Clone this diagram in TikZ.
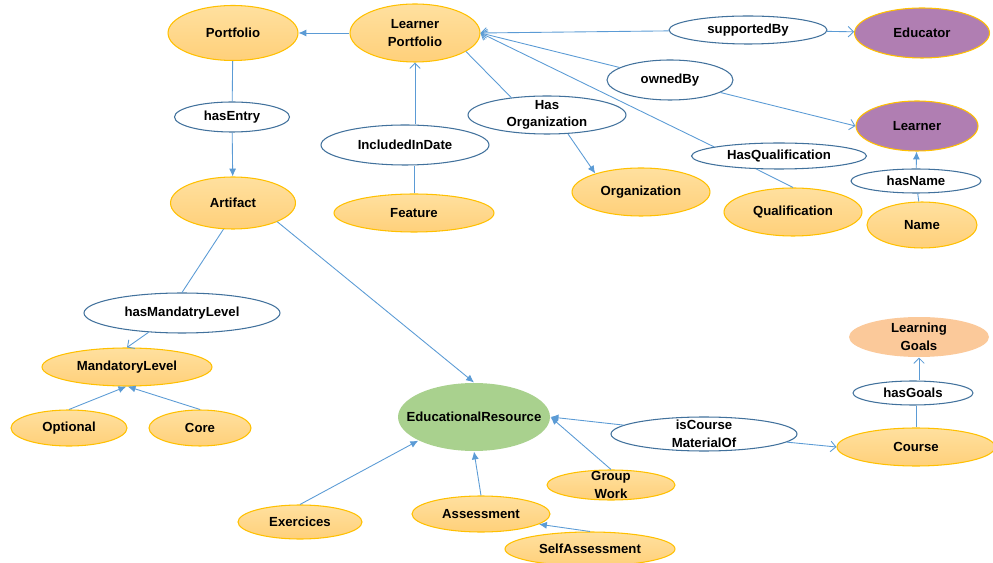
\documentclass[tikz,border=0pt]{standalone}
\usepackage{fontspec}
\setmainfont{Liberation Sans}
\usetikzlibrary{shapes.geometric,arrows.meta}
\definecolor{ornTop}{HTML}{FFE09F}
\definecolor{ornBot}{HTML}{FFD07A}
\definecolor{ornLine}{HTML}{FFC000}
\definecolor{purp}{HTML}{B07EB2}
\definecolor{grn}{HTML}{A9D18E}
\definecolor{salmon}{HTML}{FBC99A}
\definecolor{propLine}{HTML}{41719C}
\definecolor{lnk}{HTML}{5B9BD5}
\tikzset{
 e/.style
  = {ellipse, inner sep=0pt, align=center, line width=0.6pt,
     font=\bfseries\fontsize{7.5}{10}\selectfont},
 c/.style
  = {e, draw=ornLine, top color=ornTop, bottom color=ornBot},
 pu/.style
  = {e, draw=ornLine, fill=purp},
 g/.style
  = {e, fill=grn},
 s/.style
  = {e, fill=salmon},
 p/.style
  = {e, draw=propLine, fill=white},
 l/.style
  = {draw, lnk, line width=0.5pt},
 lf/.style
  = {l, -{Latex[length=4.5pt,width=4pt]}},
 lo/.style
  = {l, -{Straight Barb[length=3pt,width=6pt]}}
}
\begin{document}
\begin{tikzpicture}[x=0.02cm, y=-0.02cm]
    \useasboundingbox (0,0) rectangle (993,563);
    % top row
    \node [c, minimum width=2.6cm, minimum height=1.1cm] (portfolio) at (233,33) {Portfolio};
    \node [c, minimum width=2.6cm, minimum height=1.16cm] (lport) at (415,33) {Learner\\Portfolio};
    \node [p, minimum width=3.16cm, minimum height=0.56cm] (suppby) at (748,30) {supportedBy};
    \node [pu, minimum width=2.7cm, minimum height=1cm] (educator) at (922,33) {Educator};
    \node [p, minimum width=2.52cm, minimum height=0.8cm] (ownedby) at (670,80) {ownedBy};
    \node [p, minimum width=3.16cm, minimum height=0.76cm, inner ysep=-1pt] (hasorg) at (547,115) {Has\\Organization};
    \node [p, minimum width=2.3cm, minimum height=0.6cm] (hasentry) at (232,117) {hasEntry};
    \node [p, minimum width=3.36cm, minimum height=0.8cm] (incl) at (405,145) {IncludedInDate};
    \node [pu, minimum width=2.44cm, minimum height=1cm] (learner) at (917,126) {Learner};
    \node [p, minimum width=3.5cm, minimum height=0.52cm] (hasqual) at (779,156) {HasQualification};
    \node [p, minimum width=2.6cm, minimum height=0.48cm] (hasname) at (916,181) {hasName};
    \node [c, minimum width=2.5cm, minimum height=1.04cm] (artifact) at (233,203) {Artifact};
    \node [c, minimum width=3.2cm, minimum height=0.76cm] (feature) at (414,213) {Feature};
    \node [c, minimum width=2.76cm, minimum height=0.96cm] (org) at (641,192) {Organization};
    \node [c, minimum width=2.76cm, minimum height=0.96cm] (qual) at (793,212) {Qualification};
    \node [c, minimum width=2.2cm, minimum height=0.92cm] (name) at (922,225) {Name};
    % lower part
    \node [p, minimum width=3.92cm, minimum height=0.8cm] (hasmand) at (182,313) {hasMandatryLevel};
    \node [c, minimum width=3.4cm, minimum height=0.76cm] (mand) at (127,367) {MandatoryLevel};
    \node [c, minimum width=2.32cm, minimum height=0.72cm] (optional) at (69,428) {Optional};
    \node [c, minimum width=2.04cm, minimum height=0.72cm] (core) at (200,428) {Core};
    \node [g, minimum width=3.04cm, minimum height=1.36cm, inner xsep=-0.275cm] (er) at (474,417) {EducationalResource};
    \node [p, minimum width=3.72cm, minimum height=0.68cm, inner ysep=-1.7pt] (iscourse) at (704,434) {isCourse\\MaterialOf};
    \node [c, minimum width=3.16cm, minimum height=0.76cm] (course) at (916,447) {Course};
    \node [p, minimum width=2.4cm, minimum height=0.48cm] (hasgoals) at (913,393) {hasGoals};
    \node [s, minimum width=2.8cm, minimum height=0.8cm, inner ysep=-0.5pt] (lgoals) at (919,337) {Learning\\Goals};
    \node [c, minimum width=2.56cm, minimum height=0.6cm, inner ysep=-2.5pt] (groupwork) at (611,485) {Group\\Work};
    \node [c, minimum width=2.48cm, minimum height=0.68cm] (exerc) at (300,522) {Exercices};
    \node [c, minimum width=2.76cm, minimum height=0.72cm] (assess) at (481,514) {Assessment};
    \node [c, minimum width=3.4cm, minimum height=0.68cm] (selfa) at (590,549) {SelfAssessment};

    \path [lf] (lport) -- (portfolio);
    \path [l] (portfolio) -- (hasentry);
    \path [lf] (hasentry) -- (artifact);
    \path [l] (feature.north) -- (feature.north |- incl.south);
    \path [lo] (incl.north -| lport.south) -- (lport.south);
    \path [lo] (suppby) -- (lport.east);
    \path [lo] (suppby) -- (educator);
    \path [lo] (ownedby) -- (lport.east);
    \path [lo] (ownedby) -- (learner.west);
    \path [l] (lport.-20) -- (hasorg.154);
    \path [lf] (hasorg.-42) -- (org.158);
    \path [lo] (hasqual.172) -- (lport.east);
    \path [l] (hasqual.-150) -- (qual.north);
    \path [lf] (hasname) -- (learner);
    \path [l] (name) -- (hasname);
    \path [l] (artifact.-110) -- (hasmand.north);
    \path [lo] (hasmand.-150) -- (mand.north);
    \path [lf] (optional.north) -- (mand.-92);
    \path [lf] (core.north) -- (mand.-88);
    \path [lf] (artifact.-23) -- (er.north);
    \path [lf] (exerc.north) -- (er.-157);
    \path [lf] (assess.north) -- (er.south);
    \path [lf] (groupwork.north) -- (er.east);
    \path [lf] (selfa.north) -- (assess.-10);
    \path [lf] (iscourse) -- (er.east);
    \path [lo] (iscourse) -- (course.west);
    \path [l] (course.north) -- (course.north |- hasgoals.south);
    \path [lo] (hasgoals.north -| lgoals.south) -- (lgoals.south);

\end{tikzpicture}
\end{document}
